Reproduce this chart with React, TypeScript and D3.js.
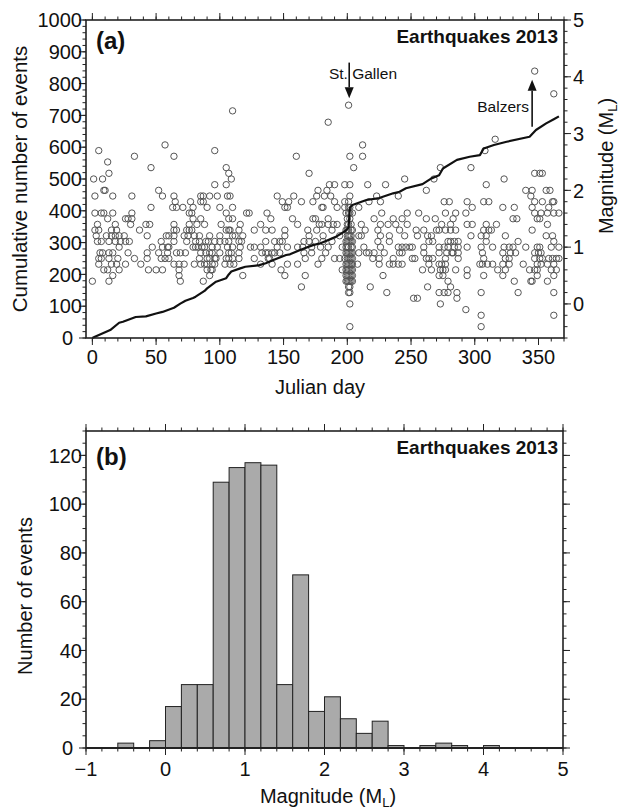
import React from "react";
import * as d3 from "d3";

const FONT = "'Liberation Sans', Arial, Helvetica, sans-serif";

// ---------------- Panel (a) ----------------
const dayDomain = [-5, 370];
const cumulativeDomain = [0, 1000];
const magnitudeDomainA = [-0.6, 5];
const dayTickLabels = [0, 50, 100, 150, 200, 250, 300, 350];
const cumulativeTickLabels = [0, 100, 200, 300, 400, 500, 600, 700, 800, 900, 1000];
const magnitudeTickLabelsA = [0, 1, 2, 3, 4, 5];

// cumulative number of events (black line)
const cumulativeDays = [0, 2, 14, 21, 24, 34, 42, 50, 55, 64, 69, 73, 79, 81, 88, 90, 97, 105, 107, 109, 116, 120, 131, 136, 142, 152, 155, 163, 173, 179, 191, 199, 201, 202, 204, 215, 225, 236, 241, 246, 259, 266, 272, 275, 286, 296, 304, 307, 315, 325, 343, 348, 356, 362, 366];
const cumulativeCounts = [0, 4, 25, 48, 51, 66, 68, 77, 82, 95, 108, 117, 126, 130, 148, 156, 177, 188, 200, 209, 219, 224, 229, 235, 245, 261, 263, 277, 292, 298, 318, 338, 348, 410, 418, 434, 440, 455, 460, 471, 484, 502, 512, 533, 560, 570, 575, 596, 607, 617, 633, 654, 675, 688, 697];

// events: local magnitude rows and the Julian days at which they occur
const eventMagnitudes = [4.1, 3.7, 3.5, 3.4, 3.2, 2.9, 2.8, 2.7, 2.6, 2.5, 2.4, 2.3, 2.2, 2.1, 2.0, 1.9, 1.8, 1.7, 1.6, 1.5, 1.4, 1.3, 1.2, 1.1, 1.0, 0.9, 0.8, 0.7, 0.6, 0.5, 0.4, 0.3, 0.2, 0.1, 0.0, -0.1, -0.2, -0.4];
const eventDays = [
  [347],
  [362],
  [201],
  [110],
  [185],
  [316],
  [57, 212],
  [5, 96, 308],
  [33, 64, 160, 202, 212],
  [12],
  [46, 105, 205, 273, 297],
  [13, 107, 170, 347, 351, 353],
  [1, 8, 109, 245, 268, 323],
  [96, 105, 186, 190, 198, 202, 216, 230, 309],
  [9, 10, 52, 177, 184, 262, 340, 345, 356, 359],
  [2, 16, 31, 55, 64, 85, 87, 92, 98, 106, 108, 145, 158, 176, 182, 187, 202, 223, 240, 344],
  [65, 77, 85, 87, 149, 154, 164, 173, 190, 198, 201, 217, 226, 276, 280, 294, 307, 311, 347, 353, 361, 362],
  [46, 63, 66, 71, 79, 90, 100, 110, 151, 153, 180, 181, 192, 198, 201, 202, 209, 298, 322, 331, 345, 358],
  [2, 7, 9, 16, 31, 76, 78, 105, 121, 123, 137, 199, 201, 202, 204, 227, 247, 256, 277, 285, 293, 347, 352, 357, 362, 366],
  [12, 26, 28, 31, 79, 85, 107, 110, 140, 157, 173, 175, 185, 200, 202, 221, 236, 243, 262, 269, 283, 330, 333, 349, 351],
  [4, 18, 30, 42, 45, 64, 76, 82, 88, 101, 116, 132, 161, 178, 180, 185, 189, 192, 200, 201, 203, 211, 226, 232, 238, 247, 274, 281, 294, 298, 309, 317, 357],
  [2, 5, 15, 19, 37, 64, 66, 74, 76, 78, 105, 107, 108, 115, 127, 136, 141, 151, 169, 176, 188, 199, 200, 201, 203, 204, 214, 224, 241, 254, 260, 270, 272, 277, 281, 285, 307, 311, 313, 345],
  [3, 11, 15, 18, 21, 25, 43, 58, 60, 64, 72, 75, 80, 84, 92, 100, 110, 112, 118, 151, 170, 181, 194, 200, 201, 202, 203, 209, 211, 226, 233, 245, 255, 263, 266, 297, 305, 309, 324, 356, 361],
  [4, 7, 13, 18, 22, 26, 29, 54, 64, 74, 81, 84, 89, 91, 96, 100, 104, 107, 115, 117, 136, 143, 147, 149, 166, 170, 175, 181, 188, 199, 200, 201, 202, 203, 204, 224, 233, 264, 267, 279, 281, 284, 287, 309, 334, 362],
  [21, 47, 55, 59, 60, 79, 81, 83, 86, 88, 94, 98, 106, 110, 116, 124, 127, 132, 145, 153, 161, 165, 172, 179, 185, 196, 199, 200, 201, 203, 204, 213, 226, 240, 243, 246, 249, 251, 260, 272, 276, 279, 284, 287, 294, 305, 314, 323, 327, 330, 340, 349, 351, 360, 366],
  [6, 8, 13, 16, 28, 43, 52, 59, 66, 69, 73, 85, 89, 92, 94, 100, 107, 109, 115, 133, 136, 138, 141, 143, 147, 166, 172, 183, 199, 200, 201, 202, 203, 204, 209, 215, 217, 221, 229, 241, 243, 260, 272, 278, 282, 283, 287, 306, 322, 328, 332, 347, 350, 352],
  [5, 7, 13, 20, 33, 43, 54, 57, 60, 84, 90, 92, 96, 97, 105, 107, 110, 115, 127, 138, 139, 167, 180, 190, 194, 198, 200, 201, 202, 203, 204, 220, 225, 236, 251, 253, 262, 264, 267, 277, 287, 307, 324, 327, 347, 351, 353, 358, 361, 364, 366],
  [5, 15, 19, 26, 38, 64, 68, 72, 80, 85, 88, 90, 94, 96, 104, 108, 111, 132, 141, 153, 161, 177, 199, 200, 201, 202, 203, 204, 208, 225, 233, 236, 240, 243, 264, 272, 274, 277, 304, 306, 310, 314, 322, 327, 338, 349, 352, 357, 362],
  [9, 12, 21, 44, 50, 55, 68, 90, 93, 94, 148, 196, 199, 200, 201, 202, 203, 204, 259, 266, 273, 275, 277, 285, 294, 318, 324, 343, 347, 349, 360, 364],
  [16, 68, 92, 118, 151, 167, 199, 200, 201, 202, 203, 204, 228, 272, 275, 294, 307, 322, 349, 362],
  [0, 13, 69, 87, 199, 200, 201, 202, 203, 204, 279, 331, 344, 345, 357],
  [164, 201, 202, 218, 263, 281],
  [201, 202, 231, 272, 276, 279, 286, 305, 334, 362],
  [252, 255, 286],
  [202, 273],
  [293],
  [305, 362],
  [202, 305],
];

// annotations (day, magnitude)
const annotationNames = ["St. Gallen", "Balzers"];
const annotationArrowDays = [201.5, 345];
const annotationArrowFromMl = [4.25, 3.12];
const annotationArrowToMl = [3.62, 3.95];

// ---------------- Panel (b) ----------------
const histMagDomain = [-1, 5];
const histCountDomain = [0, 130];
const histMagTickLabels = [-1, 0, 1, 2, 3, 4, 5];
const histCountTickLabels = [0, 20, 40, 60, 80, 100, 120];
const binLower = [-0.6, -0.4, -0.2, 0.0, 0.2, 0.4, 0.6, 0.8, 1.0, 1.2, 1.4, 1.6, 1.8, 2.0, 2.2, 2.4, 2.6, 2.8, 3.0, 3.2, 3.4, 3.6, 3.8, 4.0];
const binCounts = [2, 0, 3, 17, 26, 26, 109, 115, 117, 116, 26, 71, 15, 21, 12, 6, 11, 1, 0, 1, 2, 1, 0, 1];
const binWidth = 0.2;

const INK = "#222";

function tickPath(values: number[], pos: (v: number) => number, side: "top" | "bottom" | "left" | "right", edge: number, len: number) {
  return values
    .map((v) => {
      const p = pos(v);
      if (side === "bottom") return `M${p},${edge}V${edge + len}`;
      if (side === "top") return `M${p},${edge}V${edge - len}`;
      if (side === "left") return `M${edge},${p}H${edge - len}`;
      return `M${edge},${p}H${edge + len}`;
    })
    .join("");
}

const fmt = (v: number) => (v < 0 ? "\u2212" + Math.abs(v) : String(v));

export default function App() {
  // ---- panel (a) geometry via scales
  const xA = d3.scaleLinear().domain(dayDomain).range([86, 564]);
  const yCum = d3.scaleLinear().domain(cumulativeDomain).range([338, 20]);
  const yMl = d3.scaleLinear().domain(magnitudeDomainA).range([338, 20]);
  const [aL, aR] = xA.range();
  const [aB, aT] = yCum.range();

  const dayMinor = d3.range(0, 371, 10);
  const cumMinor = d3.range(0, 1001, 20);
  const mlMinor = d3.range(-3, 26).map((i) => i * 0.2);

  const linePath = d3
    .line<number>()
    .x((_, i) => xA(cumulativeDays[i]))
    .y((c) => yCum(c))(cumulativeCounts) as string;

  const circles: React.ReactElement[] = [];
  eventMagnitudes.forEach((ml, i) =>
    eventDays[i].forEach((d, j) =>
      circles.push(<circle key={`${i}-${j}`} cx={xA(d)} cy={yMl(ml)} r={3.2} fill="none" stroke="#555" strokeWidth={1} />)
    )
  );

  // ---- panel (b)
  const xB = d3.scaleLinear().domain(histMagDomain).range([86, 563]);
  const yB = d3.scaleLinear().domain(histCountDomain).range([748, 431]);
  const [bL, bR] = xB.range();
  const [bB, bT] = yB.range();
  const magMinorB = d3.range(-5, 26).map((i) => i * 0.2);
  const countMinorB = d3.range(0, 131, 5);

  const MAJ = 7;
  const MIN = 3.5;

  return (
    <svg width={623} height={811} style={{ position: "absolute", left: 0, top: 0, background: "#fff" }} fontFamily={FONT}>
      <rect x={0} y={0} width={623} height={811} fill="#fff" />
      {/* ================= panel (a) ================= */}
      <g>{circles}</g>
      <path d={linePath} fill="none" stroke="#111" strokeWidth={2.2} strokeLinejoin="round" />

      {/* annotations */}
      {annotationNames.map((name, i) => {
        const x = xA(annotationArrowDays[i]);
        const y0 = yMl(annotationArrowFromMl[i]);
        const y1 = yMl(annotationArrowToMl[i]);
        const dir = y1 > y0 ? 1 : -1;
        const headLen = 11;
        return (
          <g key={name}>
            <line x1={x} y1={y0} x2={x} y2={y1 - dir * headLen} stroke="#111" strokeWidth={1.6} />
            <path d={`M${x - 4.5},${y1 - dir * headLen}L${x + 4.5},${y1 - dir * headLen}L${x},${y1}Z`} fill="#111" />
          </g>
        );
      })}
      <text x={xA(185.6)} y={yMl(3.955)} fontSize={15.5} fill="#111">St. Gallen</text>
      <text x={xA(342.5)} y={yMl(3.38)} fontSize={15.5} fill="#111" textAnchor="end">Balzers</text>

      {/* frame */}
      <rect x={aL} y={aT} width={aR - aL} height={aB - aT} fill="none" stroke={INK} strokeWidth={1.6} />
      {/* ticks */}
      <path
        d={
          tickPath(dayTickLabels, xA, "bottom", aB, MAJ) +
          tickPath(dayMinor, xA, "bottom", aB, MIN) +
          tickPath(dayTickLabels, xA, "top", aT, MAJ) +
          tickPath(dayMinor, xA, "top", aT, MIN) +
          tickPath(cumulativeTickLabels, yCum, "left", aL, MAJ) +
          tickPath(cumMinor, yCum, "left", aL, MIN) +
          tickPath(magnitudeTickLabelsA, yMl, "right", aR, MAJ) +
          tickPath(mlMinor, yMl, "right", aR, MIN)
        }
        stroke={INK}
        strokeWidth={1}
        fill="none"
      />
      {dayTickLabels.map((v) => (
        <text key={`dx${v}`} x={xA(v)} y={aB + 26} fontSize={20} textAnchor="middle" fill="#111">{fmt(v)}</text>
      ))}
      {cumulativeTickLabels.map((v) => (
        <text key={`cy${v}`} x={v === 0 ? 73 : 82} y={yCum(v)} dy="0.36em" fontSize={20} textAnchor="end" fill="#111">{fmt(v)}</text>
      ))}
      {magnitudeTickLabelsA.map((v) => (
        <text key={`my${v}`} x={573} y={yMl(v)} dy="0.36em" fontSize={20} textAnchor="start" fill="#111">{fmt(v)}</text>
      ))}
      <text x={320} y={394} fontSize={20} textAnchor="middle" fill="#111">Julian day</text>
      <text transform={`translate(27,${(aT + aB) / 2}) rotate(-90)`} fontSize={20.5} textAnchor="middle" fill="#111">Cumulative number of events</text>
      <text transform={`translate(613,166) rotate(-90)`} fontSize={20} textAnchor="middle" fill="#111">
        Magnitude (M<tspan fontSize={13} dy={4}>L</tspan><tspan dy={-4}>)</tspan>
      </text>
      <text x={96} y={49} fontSize={24} fontWeight="bold" fill="#111">(a)</text>
      <text x={558} y={43} fontSize={19} fontWeight="bold" textAnchor="end" fill="#111">Earthquakes 2013</text>

      {/* ================= panel (b) ================= */}
      {binLower.map((lo, i) =>
        binCounts[i] > 0 ? (
          <rect
            key={`bin${i}`}
            x={xB(lo)}
            y={yB(binCounts[i])}
            width={xB(lo + binWidth) - xB(lo)}
            height={yB(0) - yB(binCounts[i])}
            fill="#aaaaaa"
            stroke={INK}
            strokeWidth={1}
          />
        ) : null
      )}
      <rect x={bL} y={bT} width={bR - bL} height={bB - bT} fill="none" stroke={INK} strokeWidth={1.6} />
      <line x1={bL} x2={bR} y1={yB(0)} y2={yB(0)} stroke={INK} strokeWidth={2} />
      <path
        d={
          tickPath(histMagTickLabels, xB, "bottom", bB, MAJ) +
          tickPath(magMinorB, xB, "bottom", bB, MIN) +
          tickPath(histMagTickLabels, xB, "top", bT, MAJ) +
          tickPath(magMinorB, xB, "top", bT, MIN) +
          tickPath(histCountTickLabels, yB, "left", bL, MAJ) +
          tickPath(countMinorB, yB, "left", bL, MIN) +
          tickPath(histCountTickLabels, yB, "right", bR, MAJ) +
          tickPath(countMinorB, yB, "right", bR, MIN)
        }
        stroke={INK}
        strokeWidth={1}
        fill="none"
      />
      {histMagTickLabels.map((v) => (
        <text key={`bx${v}`} x={xB(v)} y={bB + 28} fontSize={20} textAnchor="middle" fill="#111">{fmt(v)}</text>
      ))}
      {histCountTickLabels.map((v) => (
        <text key={`by${v}`} x={v === 0 ? 73 : 82} y={yB(v)} dy="0.36em" fontSize={20} textAnchor="end" fill="#111">{fmt(v)}</text>
      ))}
      <text x={328} y={803} fontSize={20} textAnchor="middle" fill="#111">
        Magnitude (M<tspan fontSize={13} dy={4}>L</tspan><tspan dy={-4}>)</tspan>
      </text>
      <text transform={`translate(32,596) rotate(-90)`} fontSize={20} textAnchor="middle" fill="#111">Number of events</text>
      <text x={96} y={465} fontSize={24} fontWeight="bold" fill="#111">(b)</text>
      <text x={558} y={454} fontSize={19} fontWeight="bold" textAnchor="end" fill="#111">Earthquakes 2013</text>
    </svg>
  );
}
